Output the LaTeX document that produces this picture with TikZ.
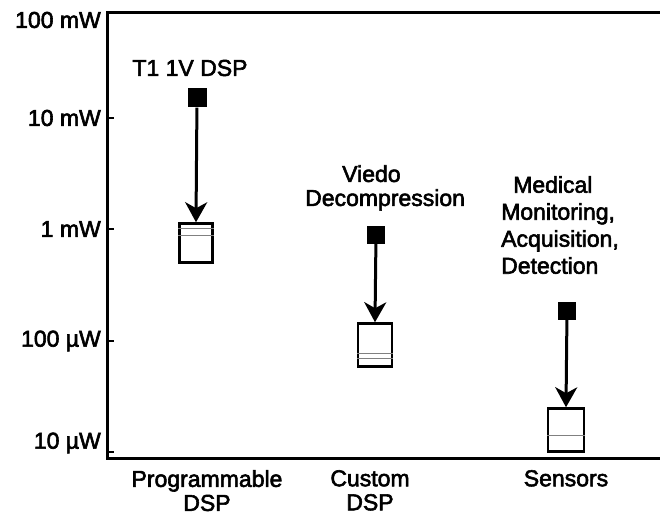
\documentclass[tikz,border=0pt]{standalone}
\usepackage{fontspec}
\setmainfont{Liberation Sans}
\newfontfamily\heavy{Liberation Sans}[FakeBold=2.5]
\usetikzlibrary{arrows.meta, positioning}

\begin{document}
\begin{tikzpicture}[x=1pt, y=-1pt, font=\heavy\fontsize{23}{24}\selectfont,
    lvl/.style={anchor=east, inner sep=0pt},
    cat/.style={align=center, anchor=north, inner sep=0pt},
    note/.style={align=center, inner sep=0pt},
    src/.style={fill, minimum size=19pt, inner sep=0pt},
    est/.style={draw, line width=2.5pt, inner sep=0pt},
    drop/.style={line width=3pt, -{Stealth[length=20pt, width=22pt, inset=6pt]}}]
    \useasboundingbox (0,0) rectangle (660,518);

    % frame
    \draw[line width=3pt] (670,13) -- (107,13) -- (107,458) -- (670,458);

    % power levels
    \node[lvl] (p0) at (101,20) {100 mW};
    \node[lvl] (p1) at (101,118) {10 mW};
    \node[lvl] (p2) at (101,229) {1 mW};
    \node[lvl] (p3) at (101,341) {100 \textmu W};
    \node[lvl] (p4) at (101,443) {10 \textmu W};
    \draw[line width=1.5pt] (107,118) -- +(7,0) (107,229) -- +(7,0)
        (107,341) -- +(7,0) (107,452) -- +(7,0);

    % categories
    \node[cat] (c1) at (207,470) {Programmable\\DSP};
    \node[cat] (c2) at (370,470) {Custom\\DSP};
    \node[cat] (c3) at (566,470) {Sensors};

    % labels
    \node[note] (t1) at (190,68) {T1 1V DSP};
    \node[note, align=left, anchor=west] (t2) at (305,188)
        {\hspace*{37pt}Viedo\\Decompression};
    \node[note, align=left, anchor=west, font=\heavy\fontsize{23}{27}\selectfont] (t3) at (501,225)
        {\hspace*{12pt}Medical\\Monitoring,\\Acquisition,\\Detection};

    % measured vs. expected
    \node[src] (s1) at (197,98) {};
    \node[src, minimum size=18pt] (s2) at (376,235) {};
    \node[src, minimum size=18pt] (s3) at (567,311) {};
    \node[est, minimum width=33pt, minimum height=39pt] (b1) at (196,243) {};
    \node[est, minimum width=34pt, minimum height=43pt] (b2) at (375,345) {};
    \node[est, minimum width=36pt, minimum height=43pt] (b3) at (566,430) {};

    \draw[gray, line width=0.8pt]
        ([yshift=-6pt]b1.north west) -- ([yshift=-6pt]b1.north east)
        ([yshift=-13pt]b1.north west) -- ([yshift=-13pt]b1.north east)
        ([yshift=14pt]b2.south west) -- ([yshift=14pt]b2.south east)
        ([yshift=9pt]b2.south west) -- ([yshift=9pt]b2.south east)
        ([yshift=17pt]b3.south west) -- ([yshift=17pt]b3.south east);

    \path[drop]
        (s1) edge (b1.north)
        (s2) edge (b2.north)
        (s3) edge (b3.north);
\end{tikzpicture}
\end{document}
